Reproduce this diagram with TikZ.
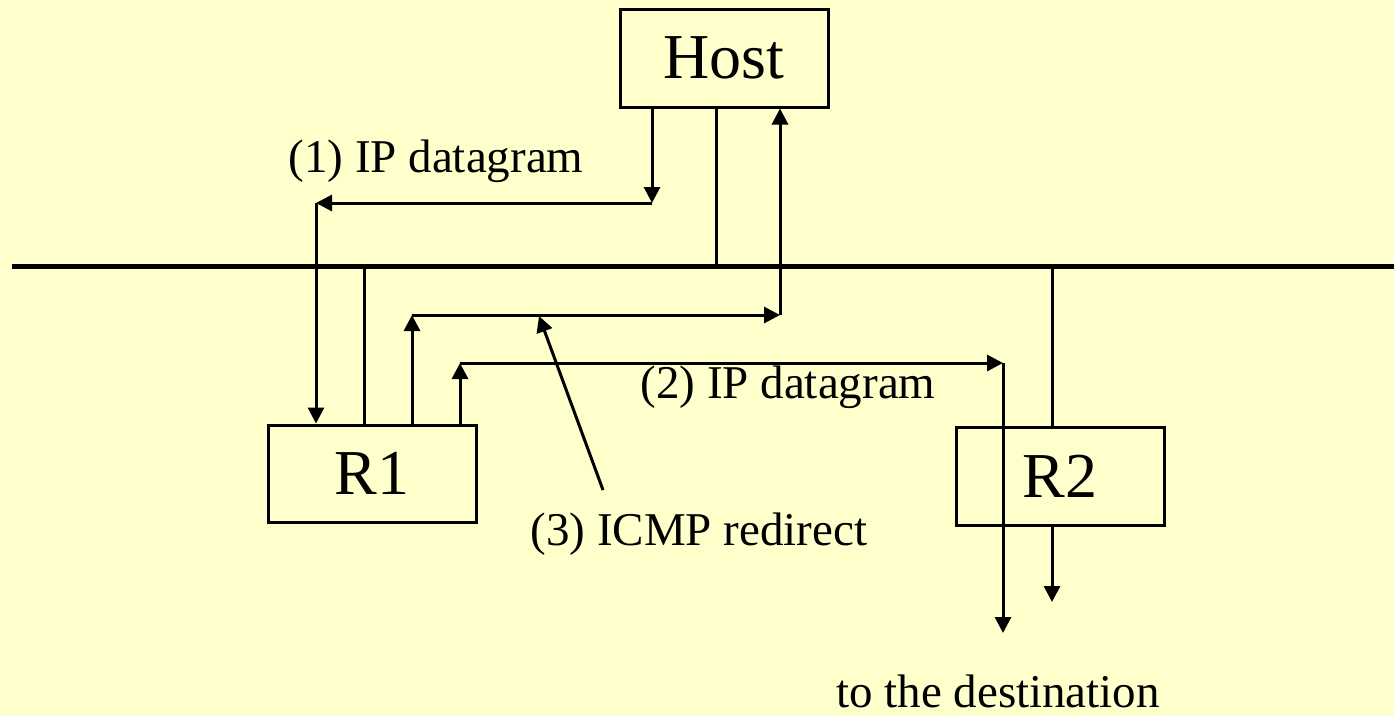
\documentclass[tikz,border=0pt]{standalone}
\usepackage{fontspec}
\setmainfont{Liberation Serif}
\usetikzlibrary{arrows.meta}
\definecolor{bg}{HTML}{FFFFCC}
\begin{document}
\begin{tikzpicture}[x=1pt,y=-1pt,
  box/.style={draw,line width=3pt,minimum width=208pt,minimum height=98pt,inner sep=0pt,font=\fontsize{64}{70}\selectfont},
  wire/.style={line width=3pt},
  bus/.style={line width=5pt},
  arr/.style={wire,-{Triangle[length=16pt,width=16pt]}},
  lab/.style={anchor=base,inner sep=0pt,font=\fontsize{47}{52}\selectfont}]
\fill[bg] (0,0) rectangle (1394,716);
\useasboundingbox (0,0) rectangle (1394,716);

% nodes
\node[box] (Host) at (724,58) {Host};
\node[box,minimum height=97pt] (R1) at (372,473.5) {R1};
\node[box] (R2) at (1060,476) {R2};

% bus
\coordinate (busL) at (12,266.5);
\coordinate (busR) at (1394,266.5);
\draw[bus] (busL) -- (busR);

% attachments to the bus
\coordinate (hb) at (716,266.5);
\coordinate (r1b) at (364,266.5);
\coordinate (r2b) at (1052,266.5);
\draw[wire] (Host.south -| hb) -- (hb);
\draw[wire] (r1b) -- (R1.north -| r1b);
\draw[wire] (r2b) -- (R2.north -| r2b);

% (1) Host -> R1
\coordinate (a1) at (652,203);
\coordinate (a2) at (316,203);
\draw[arr] (Host.south -| a1) -- (a1);
\draw[arr] (a1) -- (a2);
\draw[arr] (a2) -- (R1.north -| a2);

% (3) R1 -> Host (ICMP redirect)
\coordinate (b1) at (412,315);
\coordinate (b2) at (780,315);
\draw[arr] (R1.north -| b1) -- (b1);
\draw[arr] (b1) -- (b2);
\draw[arr] (b2) -- (Host.south -| b2);

% (2) R1 -> destination
\coordinate (d1) at (460,363);
\coordinate (d2) at (1003,363);
\coordinate (d3) at (1003,633);
\draw[arr] (R1.north -| d1) -- (d1);
\draw[arr] (d1) -- (d2);
\draw[arr] (d2) -- (d3);

% R2 downward
\coordinate (e1) at (1052,602);
\draw[arr] (R2.south -| e1) -- (e1);

% pointer of the ICMP label
\coordinate (p0) at (603,490);
\coordinate (p1) at (539,316);
\draw[arr] (p0) -- (p1);

% labels
\node[lab] (L1) at (436,172) {(1) IP datagram};
\node[lab] (L2) at (788,398) {(2) IP datagram};
\node[lab] (L3) at (699,545) {(3) ICMP redirect};
\node[lab] (L4) at (998,707) {to the destination};
\end{tikzpicture}
\end{document}
